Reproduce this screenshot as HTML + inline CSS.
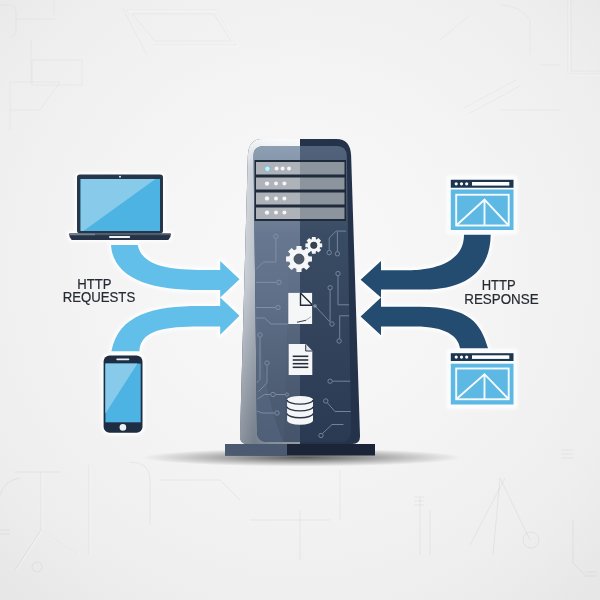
<!DOCTYPE html>
<html><head><meta charset="utf-8"><style>
html,body{margin:0;padding:0;width:600px;height:600px;overflow:hidden;background:#f0f0f0}
svg{display:block;filter:blur(0.45px)}
.t{font-family:"Liberation Sans",sans-serif;font-size:13.3px;fill:#2b3038}
</style></head><body>
<svg width="600" height="600" viewBox="0 0 600 600">
<defs>
<radialGradient id="bg" cx="0.5" cy="0.45" r="0.72">
 <stop offset="0" stop-color="#f9f9f9"/><stop offset="0.45" stop-color="#f4f4f4"/><stop offset="0.8" stop-color="#eeeeee"/><stop offset="1" stop-color="#e7e7e7"/>
</radialGradient>
<linearGradient id="shellL" gradientUnits="userSpaceOnUse" x1="239" y1="0" x2="300" y2="0">
 <stop offset="0" stop-color="#cfd4da"/><stop offset="0.05" stop-color="#bcc3cc"/><stop offset="0.25" stop-color="#a0a9b5"/><stop offset="0.5" stop-color="#b5bdc6"/><stop offset="1" stop-color="#cdd2d8"/>
</linearGradient>
<linearGradient id="shellBot" gradientUnits="userSpaceOnUse" x1="0" y1="280" x2="0" y2="444">
 <stop offset="0" stop-color="#1a2535" stop-opacity="0"/><stop offset="1" stop-color="#1a2535" stop-opacity="0.32"/>
</linearGradient>
<linearGradient id="reflG" gradientUnits="userSpaceOnUse" x1="0" y1="300" x2="0" y2="400">
 <stop offset="0" stop-color="#1a2535" stop-opacity="0"/><stop offset="1" stop-color="#1a2535" stop-opacity="0.13"/>
</linearGradient>
<linearGradient id="reflG2" gradientUnits="userSpaceOnUse" x1="0" y1="250" x2="0" y2="330">
 <stop offset="0" stop-color="#1a2535" stop-opacity="0"/><stop offset="1" stop-color="#1a2535" stop-opacity="0.06"/>
</linearGradient>
<linearGradient id="shellTop" gradientUnits="userSpaceOnUse" x1="0" y1="139" x2="0" y2="440">
 <stop offset="0" stop-color="#fff" stop-opacity="0.9"/><stop offset="0.1" stop-color="#fff" stop-opacity="0.45"/><stop offset="0.5" stop-color="#fff" stop-opacity="0.25"/><stop offset="1" stop-color="#fff" stop-opacity="0"/>
</linearGradient>
<linearGradient id="panL" x1="0" y1="0" x2="0" y2="1">
 <stop offset="0" stop-color="#8e9fb4"/><stop offset="0.3" stop-color="#66778f"/><stop offset="1" stop-color="#4f5f77"/>
</linearGradient>
<linearGradient id="panR" x1="0" y1="0" x2="0" y2="1">
 <stop offset="0" stop-color="#52637b"/><stop offset="0.3" stop-color="#3a4b64"/><stop offset="1" stop-color="#2a3a52"/>
</linearGradient>
<radialGradient id="shadow" cx="0.5" cy="0.5" r="0.5">
 <stop offset="0" stop-color="#000" stop-opacity="0.62"/><stop offset="0.55" stop-color="#000" stop-opacity="0.26"/><stop offset="1" stop-color="#000" stop-opacity="0"/>
</radialGradient>
<filter id="blur" x="-20%" y="-20%" width="140%" height="140%"><feGaussianBlur stdDeviation="1.5"/></filter>
<clipPath id="leftHalf"><rect x="0" y="0" width="300" height="600"/></clipPath>
<clipPath id="rightHalf"><rect x="300" y="0" width="300" height="600"/></clipPath>
<clipPath id="innerClip"><path d="M253.5,156 Q253.5,146 263.5,146 L337,146 Q346.5,146 346.8,156 L351,431 Q351,442 340,442 L268,442 Q257,442 257,431 Z"/></clipPath>
</defs>
<rect width="600" height="600" fill="url(#bg)"/>

<!-- faint background circuits -->
<g fill="none" stroke="#000" stroke-opacity="0.05" stroke-width="1">
 <path opacity="0.7" d="M0,5 H10 Q16,5 16,12 V30 Q16,36 10,38 M15,19 H55 M54,0 V15 M122,7 L147,55 M31,40 V82 M32,60 H82 V85 H32 Z M10,82 H60 M10,82 V130 M60,82 L40,110 H10"/>
 <path opacity="0.7" d="M127,10 H217 L237,45 H152 Z M132,14 H214 L231,41 H155 Z"/>
 <path opacity="0.7" d="M568,0 V74 H600 M571,0 V71 H600 M500,5 Q520,5 530,20 V55 M540,65 H560 M464,108 L516,80 M468,114 L520,86 M500,110 H560 M440,40 L470,15"/>
 <path d="M15,472 H61 M41,472 V530 L15,570 M41,530 L77,555 M89,465 V555 M0,495 Q5,480 20,478 M130,462 Q150,462 150,480 V525 M37,567 m-5,0 a5,5 0 1 0 10,0 a5,5 0 1 0 -10,0 M0,530 H10 M0,534 H10"/>
 <path d="M414,497 H424 M414,501 H424 M414,505 H424 M420,497 V555 M430,510 V555 M500,478 L493,555 M500,478 L530,540 M505,478 L470,545 M531,540 m-8,0 a8,8 0 1 0 16,0 a8,8 0 1 0 -16,0 M573,520 V563 L585,575 M561,450 H573 M561,454 H573 M561,458 H573 M585,572 H597 M585,576 H597"/>
 <path d="M160,480 H220 L240,500 M250,520 H330 M300,510 V560 M340,470 V520"/>
</g>
<g fill="none" stroke="#fff" stroke-width="1" transform="translate(1,1)" opacity="0.5">
 <path opacity="0.7" d="M127,10 H217 L237,45 H152 Z M568,0 V74 H600 M41,472 V530 L15,570 M41,530 L77,555 M89,465 V555"/>
</g>

<!-- halos -->
<g fill="#fff" stroke="#fff" stroke-width="5" stroke-linejoin="round" filter="url(#blur)" opacity="0.85">
 <path d="M111,244.9 C113.5,279.8 152.4,290 200,290 L220.2,290 L220.2,297.5 L239.5,279.3 L220.2,261.1 L220.2,270 L205,270 C168.2,270 141.7,265.6 137.7,244.9 Z"/><path d="M111.4,351.3 C118.5,314.2 153.7,306 200,306 L220.2,306 L220.2,297.5 L239.5,315.8 L220.2,334.7 L220.2,326.5 L205,326.5 C174.5,326.5 140.1,326.8 139.4,351.3 Z"/><path d="M490.7,234.7 C490.1,274.8 460.9,289.5 425,289.5 L381,289.5 L381,297.5 L360.6,279.7 L381,261 L381,270.2 L410,270.2 C421.1,270.2 464,267.9 464,234.7 Z"/><path d="M488,348.3 C480.6,323.6 470.1,306.8 420,306.8 L381,306.8 L381,297.5 L360.6,316.4 L381,335.3 L381,326.6 L415,326.6 C445.7,326.6 458.3,336.3 460,348.3 Z"/>
 <rect x="77" y="174.4" width="86" height="59" rx="3"/>
 <path d="M69,233.6 H171 L169,239.6 H71 Z"/>
 <rect x="103.6" y="355.4" width="38.9" height="77.4" rx="6"/>
 <rect x="449" y="178" width="66" height="54"/>
 <rect x="449" y="351.5" width="66" height="55"/>
</g>

<!-- shadow -->
<ellipse cx="302" cy="457.5" rx="160" ry="9" fill="url(#shadow)"/>

<!-- base plate -->
<rect x="225" y="444" width="150" height="11.5" fill="#1c2537"/>
<rect x="225" y="444" width="62" height="11.5" fill="#4b5a70"/>

<!-- server shell -->
<path d="M247.9,155 Q248.8,139 262.3,139 L336.6,139 Q350.1,139 351.1,155 L360.0,436 Q360.3,444 352.3,444 L247.8,444 Q239.8,444 240.0,436 Z" fill="#24334a"/>
<path d="M247.9,155 Q248.8,139 262.3,139 L336.6,139 Q350.1,139 351.1,155 L360.0,436 Q360.3,444 352.3,444 L247.8,444 Q239.8,444 240.0,436 Z" fill="url(#shellL)" clip-path="url(#leftHalf)"/>
<path d="M247.9,155 Q248.8,139 262.3,139 L336.6,139 Q350.1,139 351.1,155 L360.0,436 Q360.3,444 352.3,444 L247.8,444 Q239.8,444 240.0,436 Z" fill="url(#shellTop)" clip-path="url(#leftHalf)"/>
<path d="M247.9,155 Q248.8,139 262.3,139 L336.6,139 Q350.1,139 351.1,155 L360.0,436 Q360.3,444 352.3,444 L247.8,444 Q239.8,444 240.0,436 Z" fill="url(#shellBot)" clip-path="url(#leftHalf)"/>

<!-- inner panel -->
<path d="M253.5,156 Q253.5,146 263.5,146 L337,146 Q346.5,146 346.8,156 L351,431 Q351,442 340,442 L268,442 Q257,442 257,431 Z" fill="url(#panR)"/>
<path d="M253.5,156 Q253.5,146 263.5,146 L337,146 Q346.5,146 346.8,156 L351,431 Q351,442 340,442 L268,442 Q257,442 257,431 Z" fill="url(#panL)" clip-path="url(#leftHalf)"/>

<g clip-path="url(#innerClip)">
 <path d="M257,300 C262,380 272,415 284,444 L300,444 L300,300 Z" fill="url(#reflG)"/>
 <path d="M289,250 L284,444 L300,444 L300,250 Z" fill="url(#reflG2)"/>
</g>
<!-- circuits -->
<g clip-path="url(#innerClip)">
<g fill="none" stroke="#8a9ab0" stroke-width="1" opacity="0.75">
<path d="M275.9,238.7 V262 H263.4 L256,269.5"/>
<path d="M256,282.3 H276.6"/>
<path d="M256,307.5 H275.6"/>
<path d="M256,318 H264.5 L271,324 H288.3"/>
<path d="M260,337.4 V379.5 L256.5,383"/>
<path d="M267,365.4 V382.8 L258.5,391.6"/>
<path d="M257.5,399 L264.5,394.5 H270.6 M275.4,394.5 H285"/>
<path d="M257,411 L262,413 H274.6"/>
<path d="M329.2,250.2 V238 L336.2,231.1 H346"/>
<path d="M337.4,251.4 V232"/>
<path d="M338,276 V304.8 H350"/>
<path d="M330.1,290.1 V321.5"/>
<path d="M315,306 L330,322"/>
<path d="M350,315.8 H339.7 V338.6"/>
<path d="M352.9,352.2 V368 L358,374"/>
<path d="M332.5,381.2 H358"/>
<path d="M327.5,403 L335,411.5 H359.5"/>
<path d="M322.5,433.5 L332,424.5 H343.5"/>
<circle cx="275.9" cy="236.3" r="2.2"/>
<circle cx="279" cy="282.3" r="2.2"/>
<circle cx="278" cy="307.5" r="2.2"/>
<circle cx="260" cy="335" r="2.2"/>
<circle cx="267" cy="363" r="2.2"/>
<circle cx="273" cy="394.5" r="2.2"/>
<circle cx="277" cy="413" r="2.2"/>
<circle cx="329.2" cy="252.6" r="2.2"/>
<circle cx="337.4" cy="253.8" r="2.2"/>
<circle cx="338" cy="273.6" r="2.2"/>
<circle cx="330.1" cy="287.7" r="2.2"/>
<circle cx="332" cy="324" r="2.2"/>
<circle cx="339.1" cy="341" r="2.2"/>
<circle cx="352.9" cy="349.8" r="2.2"/>
<circle cx="330.1" cy="381.2" r="2.2"/>
<circle cx="325.8" cy="401" r="2.2"/>
<circle cx="321" cy="435.5" r="2.2"/>
<circle cx="287" cy="394.5" r="1.6"/>
</g>
<circle cx="315" cy="306" r="1.8" fill="#8d9db2" opacity="0.85"/>
</g>

<!-- drive bays -->
<rect x="254.5" y="160" width="91.5" height="61" fill="#1f2a3a"/>
<g>
 <rect x="256" y="162" width="44" height="12.5" fill="#aeb3ba"/><rect x="300" y="162" width="44.5" height="12.5" fill="#8c949e"/>
 <rect x="256" y="177.5" width="44" height="12" fill="#aeb3ba"/><rect x="300" y="177.5" width="44.5" height="12" fill="#8c949e"/>
 <rect x="256" y="192.5" width="44" height="12" fill="#aeb3ba"/><rect x="300" y="192.5" width="44.5" height="12" fill="#8c949e"/>
 <rect x="256" y="207.5" width="44" height="11.5" fill="#aeb3ba"/><rect x="300" y="207.5" width="44.5" height="11.5" fill="#8c949e"/>
</g>
<g fill="#f4f6f8">
 <circle cx="267.4" cy="168.8" r="2.7" fill="#c9f0f8" stroke="#6cbccc" stroke-width="0.8"/><circle cx="276.6" cy="168.5" r="2"/><circle cx="282.6" cy="168.5" r="2"/><circle cx="289" cy="168.5" r="2"/>
 <circle cx="267" cy="183.6" r="2.2"/><circle cx="276" cy="183.6" r="2"/><circle cx="284.4" cy="183.6" r="2"/>
 <circle cx="267" cy="198.4" r="2.2"/><circle cx="276" cy="198.4" r="2"/><circle cx="284.4" cy="198.4" r="2"/>
 <circle cx="267" cy="212.6" r="2.2"/><circle cx="276" cy="212.6" r="2"/><circle cx="284.4" cy="212.6" r="2"/>
</g>

<!-- gears -->
<path d="M308.64,256.33 L311.96,256.51 L311.96,261.49 L308.64,261.67 L307.70,263.93 L309.93,266.40 L306.40,269.93 L303.93,267.70 L301.67,268.64 L301.49,271.96 L296.51,271.96 L296.33,268.64 L294.07,267.70 L291.60,269.93 L288.07,266.40 L290.30,263.93 L289.36,261.67 L286.04,261.49 L286.04,256.51 L289.36,256.33 L290.30,254.07 L288.07,251.60 L291.60,248.07 L294.07,250.30 L296.33,249.36 L296.51,246.04 L301.49,246.04 L301.67,249.36 L303.93,250.30 L306.40,248.07 L309.93,251.60 L307.70,254.07 Z" fill="#f5f6f7"/>
<circle cx="299" cy="259" r="5" fill="#4d5869" stroke="#3a4455" stroke-width="0.8"/>
<path d="M319.97,243.26 L322.19,243.42 L322.19,247.18 L319.97,247.34 L319.61,248.22 L321.06,249.91 L318.41,252.56 L316.72,251.11 L315.84,251.47 L315.68,253.69 L311.92,253.69 L311.76,251.47 L310.88,251.11 L309.19,252.56 L306.54,249.91 L307.99,248.22 L307.63,247.34 L305.41,247.18 L305.41,243.42 L307.63,243.26 L307.99,242.38 L306.54,240.69 L309.19,238.04 L310.88,239.49 L311.76,239.13 L311.92,236.91 L315.68,236.91 L315.84,239.13 L316.72,239.49 L318.41,238.04 L321.06,240.69 L319.61,242.38 Z" fill="#f5f6f7"/>
<circle cx="313.8" cy="245.3" r="3.2" fill="#364152" stroke="#2a3342" stroke-width="0.7"/>

<!-- doc 1 -->
<rect x="288.3" y="292.9" width="23.8" height="31.1" fill="#f5f6f7"/>
<path d="M300.5,293 V305.2 H312 M300.5,293 L312,304.5" stroke="#1f2937" stroke-width="1.4" fill="none"/>
<path d="M297,322.3 L306,320.2" stroke="#3a4250" stroke-width="1.1" fill="none"/>
<path d="M306,320.2 L311,316.7" stroke="#9aa2ad" stroke-width="0.9" fill="none"/>

<!-- doc 2 -->
<path d="M288.7,344.1 H305.7 L312.3,351 V375 H288.7 Z" fill="#f5f6f7"/>
<path d="M305.7,344.1 V351 H312.3 Z" fill="#dfe3e8"/>
<path d="M305.7,344.4 V351 H312.3" stroke="#2c3444" stroke-width="1" fill="none"/>
<g stroke="#252d3b" stroke-width="1.55">
 <line x1="292.7" y1="356.3" x2="308.3" y2="356.3"/><line x1="292.7" y1="360" x2="308.3" y2="360"/>
 <line x1="292.7" y1="363.7" x2="308.3" y2="363.7"/><line x1="292.7" y1="367.3" x2="308.3" y2="367.3"/>
</g>

<!-- database -->
<path d="M287.1,400 A12.95,4.1 0 0 1 313,400 V420.5 A12.95,4.2 0 0 1 287.1,420.5 Z" fill="#f5f6f7"/>
<g fill="none" stroke="#2a3446" stroke-width="1.4">
 <path d="M287.1,400 A12.95,4.1 0 0 0 313,400"/>
 <path d="M287.1,406.8 A12.95,4.1 0 0 0 313,406.8"/>
 <path d="M287.1,413.6 A12.95,4.1 0 0 0 313,413.6"/>
</g>

<!-- laptop -->
<rect x="77" y="174.4" width="86" height="59" rx="3" fill="#26364b"/>
<rect x="80.6" y="179" width="79.4" height="52" fill="#4cb3e3"/>
<path d="M80.6,179 H155.5 L83.4,231 H80.6 Z" fill="#88caea"/>
<circle cx="120" cy="176.7" r="1" fill="#e8eef3"/>
<path d="M69,233.6 H171 Q171,237.2 168.3,240 H71.7 Q69,237.2 69,233.6 Z" fill="#243347"/>
<rect x="70" y="233.6" width="100" height="1.6" fill="#4f5a69"/>
<rect x="70" y="233.6" width="25" height="1.6" fill="#75808e"/>
<rect x="109" y="235.9" width="21.2" height="2.1" rx="1" fill="#eef2f5"/>

<!-- phone -->
<rect x="103.6" y="355.4" width="38.9" height="77.4" rx="6" fill="#1e2d42"/>
<rect x="105.4" y="363.6" width="35.3" height="58.7" fill="#4cb3e3"/>
<path d="M105.4,363.6 H137.5 L105.4,413.5 Z" fill="#88caea"/>
<rect x="116.3" y="358.6" width="13" height="1.6" rx="0.8" fill="#e8eef3"/>
<circle cx="122.9" cy="427.4" r="3.3" fill="#eef2f5"/>

<!-- browser windows -->
<g>
 <rect x="447.8" y="176.8" width="68.7" height="56.2" fill="#fbfcfd"/>
 <rect x="450.8" y="179.75" width="62.7" height="8" fill="#1e3550"/>
 <rect x="450.8" y="189.5" width="62.7" height="40.5" fill="#5db8e4"/>
 <circle cx="456.2" cy="183.8" r="1.6" fill="#fff"/><circle cx="461.5" cy="183.8" r="1.6" fill="#fff"/><circle cx="466.7" cy="183.8" r="1.6" fill="#fff"/>
 <rect x="472" y="182" width="37.3" height="3.6" fill="#fff"/>
 <g fill="none" stroke="#f4fbff" stroke-width="1.9">
  <rect x="456.2" y="194.75" width="52.5" height="30.75"/>
  <path d="M456.2,225.5 L484.5,199.7 L508.7,225.5 M484.5,199.7 V225.5"/>
 </g>
</g>
<g>
 <rect x="447.8" y="350.2" width="68.7" height="57.3" fill="#fbfcfd"/>
 <rect x="450.8" y="353.2" width="62.7" height="7.8" fill="#1e3550"/>
 <rect x="450.8" y="363.7" width="62.7" height="40.8" fill="#5db8e4"/>
 <circle cx="456.2" cy="357.1" r="1.6" fill="#fff"/><circle cx="461.5" cy="357.1" r="1.6" fill="#fff"/><circle cx="466.7" cy="357.1" r="1.6" fill="#fff"/>
 <rect x="472" y="355.3" width="37.3" height="3.6" fill="#fff"/>
 <g fill="none" stroke="#f4fbff" stroke-width="1.9">
  <rect x="456.2" y="368.5" width="52.5" height="30.75"/>
  <path d="M456.2,399.25 L484.5,374.2 L508.7,399.25 M484.5,374.2 V399.25"/>
 </g>
</g>

<!-- arrows -->
<g fill="#62bfe9">
 <path d="M111,244.9 C113.5,279.8 152.4,290 200,290 L220.2,290 L220.2,297.5 L239.5,279.3 L220.2,261.1 L220.2,270 L205,270 C168.2,270 141.7,265.6 137.7,244.9 Z"/>
 <path d="M111.4,351.3 C118.5,314.2 153.7,306 200,306 L220.2,306 L220.2,297.5 L239.5,315.8 L220.2,334.7 L220.2,326.5 L205,326.5 C174.5,326.5 140.1,326.8 139.4,351.3 Z"/>
</g>
<g fill="#244b70">
 <path d="M490.7,234.7 C490.1,274.8 460.9,289.5 425,289.5 L381,289.5 L381,297.5 L360.6,279.7 L381,261 L381,270.2 L410,270.2 C421.1,270.2 464,267.9 464,234.7 Z"/>
 <path d="M488,348.3 C480.6,323.6 470.1,306.8 420,306.8 L381,306.8 L381,297.5 L360.6,316.4 L381,335.3 L381,326.6 L415,326.6 C445.7,326.6 458.3,336.3 460,348.3 Z"/>
</g>

<!-- labels -->
<g font-family="Liberation Sans, sans-serif" font-size="14" fill="#262b33" stroke="#262b33" stroke-width="0.2">
<text x="77.35" y="289" textLength="34.3" lengthAdjust="spacingAndGlyphs">HTTP</text>
<text x="62.64" y="302.4" textLength="72.6" lengthAdjust="spacingAndGlyphs">REQUESTS</text>
<text x="481.66" y="290" textLength="33.9" lengthAdjust="spacingAndGlyphs">HTTP</text>
<text x="464.23" y="303.7" textLength="74.4" lengthAdjust="spacingAndGlyphs">RESPONSE</text>
</g>
</svg>
</body></html>
